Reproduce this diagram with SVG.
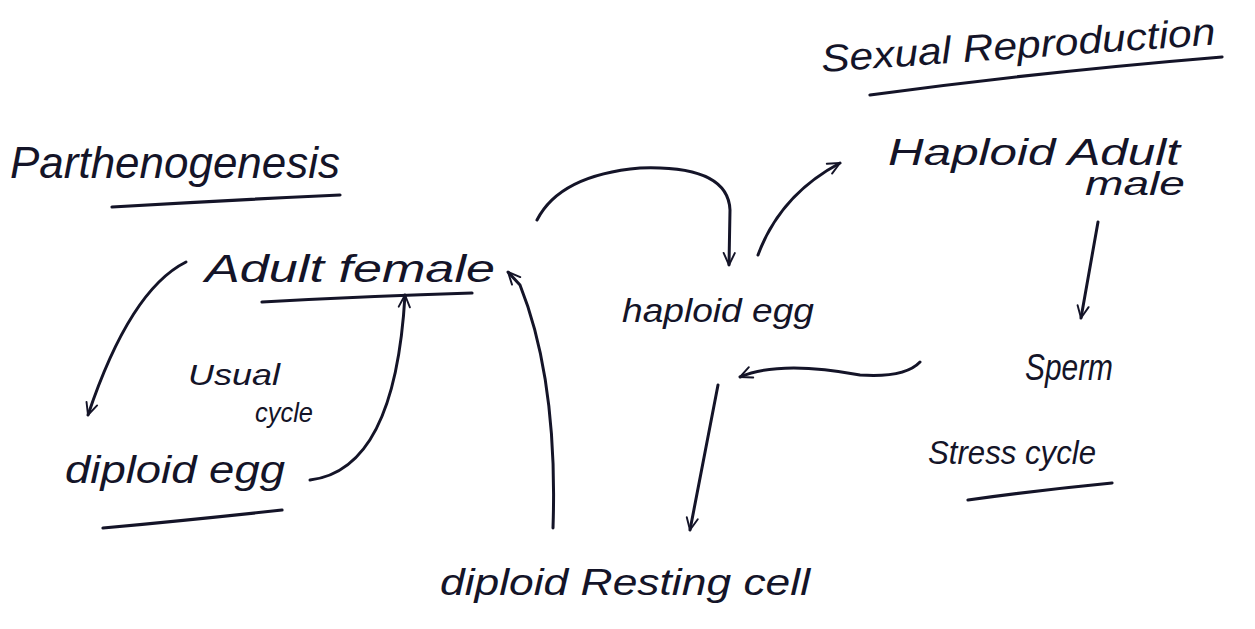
<svg xmlns="http://www.w3.org/2000/svg" width="1255" height="629" viewBox="0 0 1255 629">
<defs>
<style>
.t{font-family:"Liberation Sans",sans-serif;font-style:italic;fill:#141428}
.c{fill:none;stroke:#141428;stroke-width:3;stroke-linecap:round;stroke-linejoin:round}
.u{fill:none;stroke:#141428;stroke-width:3.2;stroke-linecap:round}
</style>
<marker id="ah" viewBox="0 0 20 20" refX="18" refY="10" markerWidth="16" markerHeight="16" orient="auto" markerUnits="userSpaceOnUse">
<polyline points="3,3 18,10 3,17" fill="none" stroke="#141428" stroke-width="2.4" stroke-linecap="round" stroke-linejoin="round"/>
</marker>
</defs>
<rect width="1255" height="629" fill="#ffffff"/>
<g id="title-sexual">
<text class="t" x="822" y="72" font-size="38" textLength="395" lengthAdjust="spacingAndGlyphs" transform="rotate(-4 822 72)">Sexual Reproduction</text>
<path class="u" d="M870 95 Q1040 72 1222 57"/>
</g>
<g id="title-parthenogenesis">
<text class="t" x="10" y="178" font-size="44" textLength="330" lengthAdjust="spacingAndGlyphs">Parthenogenesis</text>
<path class="u" d="M112 207 Q230 200 340 195"/>
</g>
<g id="adult-female">
<text class="t" x="205" y="282" font-size="38" textLength="290" lengthAdjust="spacingAndGlyphs">Adult female</text>
<path class="u" d="M262 302 Q370 296 472 293"/>
</g>
<g id="haploid-egg">
<text class="t" x="622" y="322" font-size="34" textLength="192" lengthAdjust="spacingAndGlyphs">haploid egg</text>
</g>
<g id="haploid-adult-male">
<text class="t" x="888" y="165" font-size="36" textLength="292" lengthAdjust="spacingAndGlyphs">Haploid Adult</text>
<text class="t" x="1085" y="195" font-size="34" textLength="100" lengthAdjust="spacingAndGlyphs">male</text>
</g>
<g id="usual-cycle">
<text class="t" x="188" y="385" font-size="30" textLength="92" lengthAdjust="spacingAndGlyphs">Usual</text>
<text class="t" x="255" y="422" font-size="28" textLength="58" lengthAdjust="spacingAndGlyphs">cycle</text>
</g>
<g id="diploid-egg">
<text class="t" x="65" y="483" font-size="38" textLength="220" lengthAdjust="spacingAndGlyphs">diploid egg</text>
<path class="u" d="M103 528 Q190 520 282 510"/>
</g>
<g id="sperm">
<text class="t" x="1025" y="380" font-size="36" textLength="88" lengthAdjust="spacingAndGlyphs">Sperm</text>
</g>
<g id="stress-cycle">
<text class="t" x="928" y="464" font-size="34" textLength="168" lengthAdjust="spacingAndGlyphs">Stress cycle</text>
<path class="u" d="M968 500 Q1040 490 1112 483"/>
</g>
<g id="diploid-resting-cell">
<text class="t" x="440" y="595" font-size="36" textLength="370" lengthAdjust="spacingAndGlyphs">diploid Resting cell</text>
</g>
<g id="connectors">
<path class="c" d="M186 262 Q130 290 88 415" marker-end="url(#ah)"/>
<path class="c" d="M310 480 Q395 470 405 295" marker-end="url(#ah)"/>
<path class="c" d="M553 528 Q558 380 520 285 L508 272" marker-end="url(#ah)"/>
<path class="c" d="M537 220 Q560 175 640 168 Q728 165 730 210 L729 265" marker-end="url(#ah)"/>
<path class="c" d="M758 255 Q780 195 840 163" marker-end="url(#ah)"/>
<path class="c" d="M1098 222 L1081 318" marker-end="url(#ah)"/>
<path class="c" d="M920 362 Q905 378 860 375 Q780 360 740 377" marker-end="url(#ah)"/>
<path class="c" d="M718 385 L690 530" marker-end="url(#ah)"/>
</g>
</svg>
